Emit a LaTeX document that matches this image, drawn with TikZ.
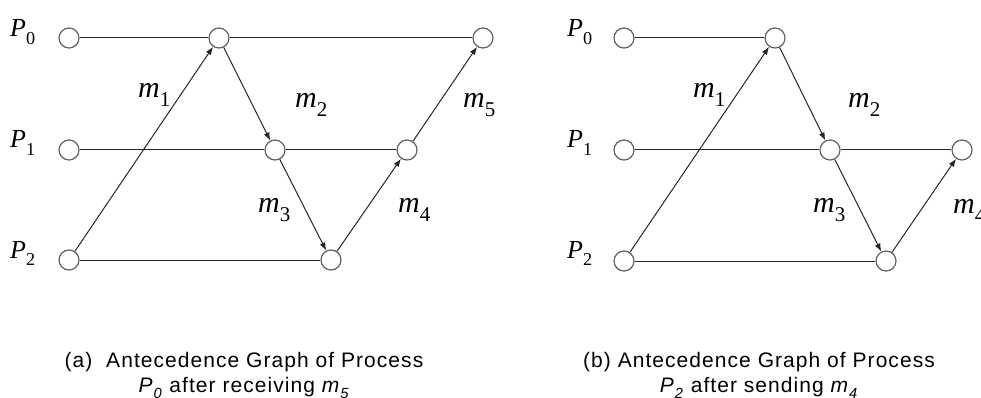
\documentclass[tikz,border=0pt]{standalone}
\usepackage{fontspec}
\setmainfont{Liberation Serif}
\newfontfamily\capfont[LetterSpace=5]{Liberation Sans}
\usetikzlibrary{arrows.meta,positioning}
\definecolor{evgray}{rgb}{0.38,0.38,0.38}
\definecolor{evline}{rgb}{0.15,0.15,0.15}

\begin{document}
\begin{tikzpicture}[
  x=1pt, y=-1pt,
  ev/.style={circle, draw=evgray, line width=1.2pt, fill=white,
             minimum size=20pt, inner sep=0pt},
  tl/.style={draw=evline, line width=1pt},
  msgarrow/.style={tl, -{Latex[length=8pt,width=6pt]}},
  plbl/.style={anchor=base west, inner sep=0pt, font=\fontsize{26}{26}\selectfont},
  mlbl/.style={anchor=base west, inner sep=0pt, font=\fontsize{30}{30}\selectfont},
  captxt/.style={anchor=base, inner sep=0pt, font=\capfont\fontsize{21}{21}\selectfont}
]
\newcommand{\lbl}[2]{\textit{#1}\raisebox{-0.3em}{\scalebox{0.7}{#2}}}
\newcommand{\capsub}[2]{\textit{#1}\raisebox{-0.3em}{\scalebox{0.7}{\textit{#2}}}}

\useasboundingbox (0,0) rectangle (981,398);

% (a) process P0 after receiving m5
\node[ev] (a00) at (69,38)  {};
\node[ev] (a01) at (219,38) {};
\node[ev] (a02) at (483,38) {};
\node[ev] (a10) at (69,150)  {};
\node[ev] (a11) at (275,150) {};
\node[ev] (a12) at (407,150) {};
\node[ev] (a20) at (69,260)  {};
\node[ev] (a21) at (331,260) {};

\draw[tl] (a00) -- (a01) -- (a02);
\draw[tl] (a10) -- (a11) -- (a12);
\draw[tl] (a20) -- (a21);

\draw[msgarrow] (a20) -- (a01);
\draw[msgarrow] (a01) -- (a11);
\draw[msgarrow] (a11) -- (a21);
\draw[msgarrow] (a21) -- (a12);
\draw[msgarrow] (a12) -- (a02);

\node[plbl] (aP0) at (10,37)  {\lbl{P}{0}};
\node[plbl] (aP1) at (10,148) {\lbl{P}{1}};
\node[plbl] (aP2) at (10,258) {\lbl{P}{2}};

\node[mlbl] (am1) at (138,98)  {\lbl{m}{1}};
\node[mlbl] (am2) at (295,108) {\lbl{m}{2}};
\node[mlbl] (am3) at (258,212) {\lbl{m}{3}};
\node[mlbl] (am4) at (398,212) {\lbl{m}{4}};
\node[mlbl] (am5) at (463,108) {\lbl{m}{5}};

\node[captxt] (acap1) at (244,367) {(a)\ \ Antecedence Graph of Process};
\node[captxt] (acap2) at (244,392) {\capsub{P}{0} after receiving \capsub{m}{5}};

% (b) process P2 after sending m4
\node[ev] (b00) at (624,38)  {};
\node[ev] (b01) at (775,38)  {};
\node[ev] (b10) at (624,150) {};
\node[ev] (b11) at (830,150) {};
\node[ev] (b12) at (962,150) {};
\node[ev] (b20) at (624,261) {};
\node[ev] (b21) at (886,261) {};

\draw[tl] (b00) -- (b01);
\draw[tl] (b10) -- (b11) -- (b12);
\draw[tl] (b20) -- (b21);

\draw[msgarrow] (b20) -- (b01);
\draw[msgarrow] (b01) -- (b11);
\draw[msgarrow] (b11) -- (b21);
\draw[msgarrow] (b21) -- (b12);

\node[plbl] (bP0) at (567,37)  {\lbl{P}{0}};
\node[plbl] (bP1) at (567,148) {\lbl{P}{1}};
\node[plbl] (bP2) at (567,258) {\lbl{P}{2}};

\node[mlbl] (bm1) at (693,98)  {\lbl{m}{1}};
\node[mlbl] (bm2) at (848,108) {\lbl{m}{2}};
\node[mlbl] (bm3) at (813,212) {\lbl{m}{3}};
\node[mlbl] (bm4) at (953,213) {\lbl{m}{4}};

\node[captxt] (bcap1) at (759,367) {(b) Antecedence Graph of Process};
\node[captxt] (bcap2) at (759,392) {\capsub{P}{2} after sending \capsub{m}{4}};
\end{tikzpicture}
\end{document}
